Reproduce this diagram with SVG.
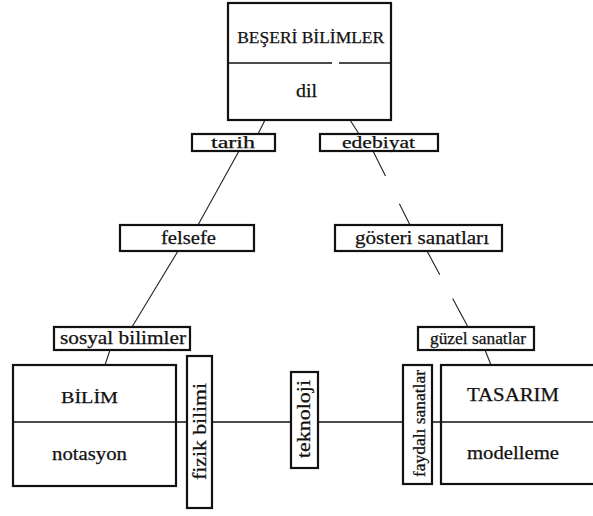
<svg xmlns="http://www.w3.org/2000/svg" width="593" height="516" viewBox="0 0 593 516">
<style>
.box{fill:#fff;stroke:#111;stroke-width:2.2}
.div{stroke:#111;stroke-width:1.6;fill:none}
.con{stroke:#222;stroke-width:1.1;fill:none}
text{font-family:"Liberation Serif","Times New Roman",serif;fill:#111;stroke:#111;stroke-width:0.25;text-anchor:middle}
</style>
<rect width="593" height="516" fill="#fff"/>
<g id="connectors">
<line class="con" x1="265" y1="120" x2="258" y2="134"/>
<line class="con" x1="239" y1="151" x2="198" y2="225"/>
<line class="con" x1="178" y1="251" x2="132" y2="327"/>
<line class="con" x1="110" y1="350" x2="105" y2="365"/>
<line class="con" x1="350" y1="120" x2="359" y2="134"/>
<line class="con" x1="373" y1="151" x2="410" y2="225" stroke-dasharray="28 31 30"/>
<line class="con" x1="427" y1="251" x2="468" y2="327" stroke-dasharray="27 27 40"/>
<line class="con" x1="485" y1="350" x2="491" y2="365"/>
<line class="div" x1="13" y1="422" x2="600" y2="422"/>
</g>
<g id="beseri">
<rect class="box" x="228" y="3" width="163" height="117"/>
<line class="div" x1="228" y1="63" x2="332" y2="63"/>
<line class="div" x1="339" y1="63" x2="391" y2="63"/>
<text x="310.7" y="43" font-size="17" textLength="147" lengthAdjust="spacingAndGlyphs">BEŞERİ BİLİMLER</text>
<text x="306.5" y="97" font-size="19" textLength="21" lengthAdjust="spacingAndGlyphs">dil</text>
</g>
<g id="tarih">
<rect class="box" x="192" y="134" width="83" height="17"/>
<text x="233" y="148" font-size="16" textLength="44" lengthAdjust="spacingAndGlyphs">tarih</text>
</g>
<g id="edebiyat">
<rect class="box" x="320" y="134" width="118" height="17"/>
<text x="378.5" y="148" font-size="16.5" textLength="73" lengthAdjust="spacingAndGlyphs">edebiyat</text>
</g>
<g id="felsefe">
<rect class="box" x="120" y="225" width="134" height="26"/>
<text x="188.5" y="243.5" font-size="19" textLength="55" lengthAdjust="spacingAndGlyphs">felsefe</text>
</g>
<g id="gosteri">
<rect class="box" x="335" y="225" width="167" height="26"/>
<text x="422" y="244" font-size="19" textLength="134" lengthAdjust="spacingAndGlyphs">gösteri sanatları</text>
</g>
<g id="sosyal">
<rect class="box" x="54" y="327" width="136" height="23"/>
<text x="123" y="344" font-size="18" textLength="126" lengthAdjust="spacingAndGlyphs">sosyal bilimler</text>
</g>
<g id="guzel">
<rect class="box" x="418" y="327" width="116" height="23"/>
<text x="478" y="344" font-size="16" textLength="96" lengthAdjust="spacingAndGlyphs">güzel sanatlar</text>
</g>
<g id="bilim">
<rect class="box" x="13" y="365" width="163" height="121" style="fill:none"/>
<text x="89.5" y="402.5" font-size="17" textLength="57" lengthAdjust="spacingAndGlyphs">BİLİM</text>
<text x="89.5" y="460" font-size="19" textLength="75" lengthAdjust="spacingAndGlyphs">notasyon</text>
</g>
<g id="tasarim">
<rect class="box" x="441" y="365" width="170" height="119" style="fill:none"/>
<text x="513" y="401" font-size="18" textLength="92" lengthAdjust="spacingAndGlyphs">TASARIM</text>
<text x="513" y="459" font-size="19" textLength="92" lengthAdjust="spacingAndGlyphs">modelleme</text>
</g>
<g id="fizik">
<rect class="box" x="187" y="356" width="25" height="152"/>
<text transform="translate(206,431.5) rotate(-90)" font-size="18" textLength="97" lengthAdjust="spacingAndGlyphs">fizik bilimi</text>
</g>
<g id="teknoloji">
<rect class="box" x="291" y="372" width="27" height="96"/>
<text transform="translate(310,419) rotate(-90)" font-size="18" textLength="78" lengthAdjust="spacingAndGlyphs">teknoloji</text>
</g>
<g id="faydali">
<rect class="box" x="403" y="365" width="29" height="119"/>
<text transform="translate(425,423.5) rotate(-90)" font-size="16" textLength="107" lengthAdjust="spacingAndGlyphs">faydalı sanatlar</text>
</g>
</svg>
